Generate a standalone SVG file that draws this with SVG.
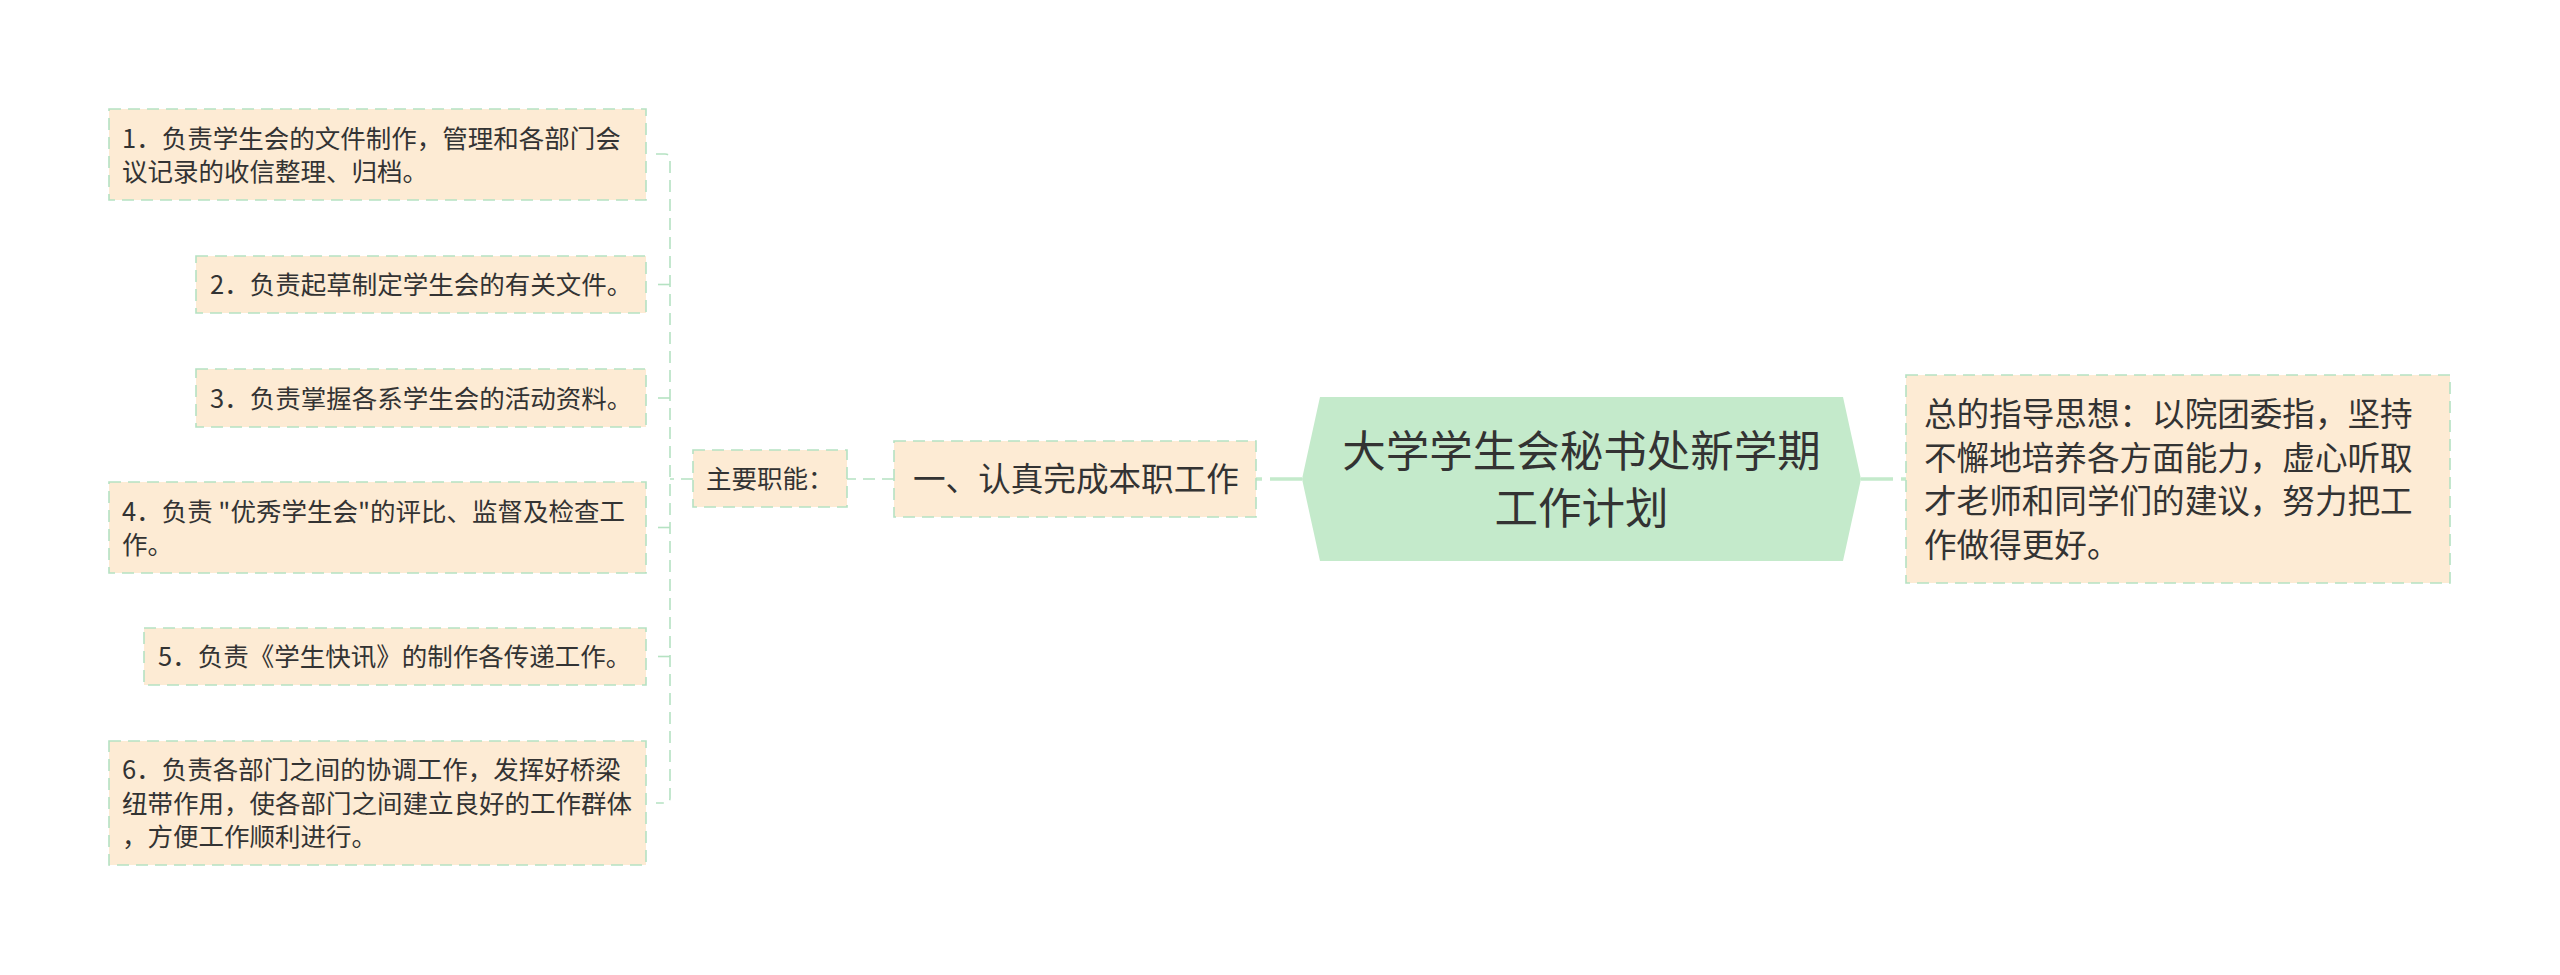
<svg xmlns="http://www.w3.org/2000/svg" width="2560" height="975" viewBox="0 0 2560 975">
<style>
.box{fill:#fdebd4;stroke:#b5e2c2;stroke-width:1.6;stroke-dasharray:12 7}
.conn{fill:none;stroke:#b5e2c2;stroke-width:1.6;stroke-dasharray:12 7}
.main{fill:none;stroke:#c4eacb;stroke-width:3.5;stroke-dasharray:32 8}
.t{font-family:"Noto Sans CJK SC","Noto Sans",sans-serif;fill:#333333}
.s25{font-size:25.5px}
.s32{font-size:32.6px}
.s43{font-size:43.5px}
</style>
<rect width="2560" height="975" fill="#ffffff"/>
<g id="connectors">
<path class="main" d="M1302 479 H1256"/>
<path class="main" d="M1861 479 H1906"/>
<path class="conn" d="M894 479 H847"/>
<path class="conn" d="M693 479 H670"/>
<path class="conn" d="M656 154 H665 Q670 154 670 159 V798 Q670 803 665 803 H656"/>
<path class="conn" d="M670 284.5 H656"/>
<path class="conn" d="M670 398 H656"/>
<path class="conn" d="M670 527.5 H656"/>
<path class="conn" d="M670 656.5 H656"/>
</g>
<g id="root">
<polygon points="1320,397 1843,397 1861,479 1843,561 1320,561 1302,479" fill="#c4eacb"/>
<text class="t s43" x="1581.5" y="467" text-anchor="middle">大学学生会秘书处新学期</text>
<text class="t s43" x="1581.5" y="524" text-anchor="middle">工作计划</text>
</g>
<g id="node-guide">
<rect class="box" x="1906" y="375" width="544" height="208"/>
<text class="t s32" x="1924" y="426">总的指导思想：以院团委指，坚持</text>
<text class="t s32" x="1924" y="469.5">不懈地培养各方面能力，虚心听取</text>
<text class="t s32" x="1924" y="513">才老师和同学们的建议，努力把工</text>
<text class="t s32" x="1924" y="556.5">作做得更好。</text>
</g>
<g id="node-work">
<rect class="box" x="894" y="441" width="362" height="76"/>
<text class="t s32" x="913" y="491">一、认真完成本职工作</text>
</g>
<g id="node-duty">
<rect class="box" x="693" y="450" width="154" height="57"/>
<text class="t s25" x="706" y="488">主要职能：</text>
</g>
<g id="leaf1">
<rect class="box" x="109" y="109" width="537" height="91"/>
<text class="t s25" x="122" y="147.5">1．负责学生会的文件制作，管理和各部门会</text>
<text class="t s25" x="122" y="181">议记录的收信整理、归档。</text>
</g>
<g id="leaf2">
<rect class="box" x="196" y="256" width="450" height="57"/>
<text class="t s25" x="210" y="294">2．负责起草制定学生会的有关文件。</text>
</g>
<g id="leaf3">
<rect class="box" x="196" y="369" width="450" height="58"/>
<text class="t s25" x="210" y="407.5">3．负责掌握各系学生会的活动资料。</text>
</g>
<g id="leaf4">
<rect class="box" x="109" y="482" width="537" height="91"/>
<text class="t s25" x="122" y="520.5">4．负责 "优秀学生会"的评比、监督及检查工</text>
<text class="t s25" x="122" y="554">作。</text>
</g>
<g id="leaf5">
<rect class="box" x="144" y="628" width="502" height="57"/>
<text class="t s25" x="158" y="666">5．负责《学生快讯》的制作各传递工作。</text>
</g>
<g id="leaf6">
<rect class="box" x="109" y="741" width="537" height="124"/>
<text class="t s25" x="122" y="779">6．负责各部门之间的协调工作，发挥好桥梁</text>
<text class="t s25" x="122" y="812.5">纽带作用，使各部门之间建立良好的工作群体</text>
<text class="t s25" x="122" y="846">，方便工作顺利进行。</text>
</g>
</svg>
